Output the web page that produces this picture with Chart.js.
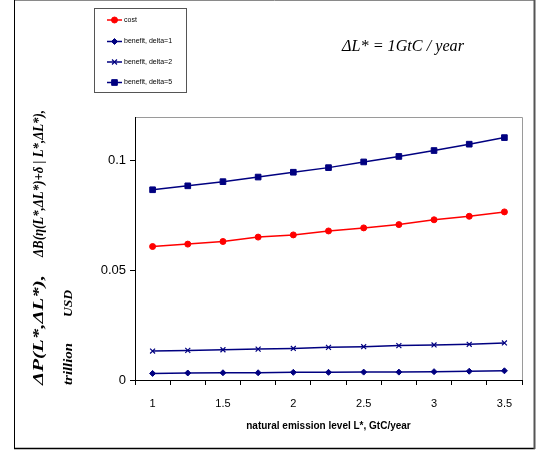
<!DOCTYPE html>
<html>
<head>
<meta charset="utf-8">
<script src="https://cdn.jsdelivr.net/npm/chart.js@4.4.1/dist/chart.umd.min.js"></script>
<style>
html, body { margin: 0; padding: 0; background: #fff; }
#wrap { width: 548px; height: 453px; }
</style>
</head>
<body>
<div id="wrap"><canvas id="chart" width="548" height="453"></canvas></div>
<script>
// natural emission level L*, GtC/year
const emissionLevels = ['1', '1.25', '1.5', '1.75', '2', '2.25', '2.5', '2.75', '3', '3.25', '3.5'];

// trillion USD
const cost = [0.0609, 0.0620, 0.0632, 0.0652, 0.0662, 0.0680, 0.0694, 0.0709, 0.0731, 0.0747, 0.0767];
const benefitDelta1 = [0.0030, 0.0032, 0.0033, 0.0033, 0.0035, 0.0035, 0.0036, 0.0036, 0.0038, 0.0040, 0.0042];
const benefitDelta2 = [0.0132, 0.0135, 0.0138, 0.0141, 0.0144, 0.0149, 0.0152, 0.0157, 0.0160, 0.0163, 0.0169];
const benefitDelta5 = [0.0868, 0.0886, 0.0905, 0.0926, 0.0948, 0.0969, 0.0995, 0.1020, 0.1047, 0.1076, 0.1106];

const seriesNames = ['cost', 'benefit, delta=1', 'benefit, delta=2', 'benefit, delta=5'];

const RED = '#FF0000';
const NAVY = '#000080';

// draws text squeezed/stretched to a given length
function fitText(ctx, text, x, y, len) {
    const w = ctx.measureText(text).width;
    ctx.save();
    ctx.translate(x, y);
    ctx.scale(len / w, 1);
    ctx.fillText(text, 0, 0);
    ctx.restore();
}

const decor = {
    id: 'decor',
    beforeDraw(chart) {
        const ctx = chart.ctx;
        const area = chart.chartArea;
        ctx.save();
        // outer frame
        ctx.lineWidth = 1;
        ctx.strokeStyle = '#8a8a8a';
        ctx.beginPath(); ctx.moveTo(14, 0.5); ctx.lineTo(535, 0.5); ctx.stroke();
        ctx.strokeStyle = '#000';
        ctx.beginPath(); ctx.moveTo(14.5, 0); ctx.lineTo(14.5, 449); ctx.stroke();
        ctx.lineWidth = 1.5;
        ctx.beginPath(); ctx.moveTo(14, 448.5); ctx.lineTo(535, 448.5); ctx.stroke();
        ctx.lineWidth = 2;
        ctx.strokeStyle = '#555';
        ctx.beginPath(); ctx.moveTo(534.5, 0); ctx.lineTo(534.5, 449); ctx.stroke();

        // plot box, top and right
        ctx.lineWidth = 1;
        ctx.strokeStyle = '#9a9a9a';
        ctx.beginPath();
        ctx.moveTo(area.left, area.top + 0.5);
        ctx.lineTo(area.right + 0.5, area.top + 0.5);
        ctx.lineTo(area.right + 0.5, area.bottom);
        ctx.stroke();
        ctx.restore();
    },
    afterDraw(chart) {
        const ctx = chart.ctx;
        ctx.save();
        ctx.fillStyle = '#000';
        ctx.textBaseline = 'middle';
        ctx.textAlign = 'left';

        // legend box
        ctx.strokeStyle = '#555';
        ctx.lineWidth = 1;
        ctx.strokeRect(94.5, 8.5, 92, 84);
        const rows = [20, 41.5, 62, 82.5];
        chart.data.datasets.forEach((ds, i) => {
            const y = rows[i];
            ctx.strokeStyle = ds.borderColor;
            ctx.fillStyle = ds.backgroundColor;
            ctx.lineWidth = 1.5;
            ctx.beginPath(); ctx.moveTo(107, y); ctx.lineTo(122, y); ctx.stroke();
            ctx.lineWidth = ds.pointBorderWidth || 1;
            Chart.helpers.drawPoint(ctx, {
                pointStyle: ds.pointStyle, radius: ds.pointRadius,
                rotation: 0, borderWidth: ctx.lineWidth
            }, 114.5, y);
            ctx.fillStyle = '#000';
            ctx.font = '7px "Liberation Sans", Arial, sans-serif';
            ctx.fillText(ds.label, 124, y);
        });

        // annotation
        ctx.font = 'italic 16px "Liberation Serif", "Times New Roman", serif';
        fitText(ctx, 'ΔL* = 1GtC / year', 342, 47, 122);

        // y axis title, two rotated lines
        ctx.save();
        ctx.translate(39, 385);
        ctx.rotate(-Math.PI / 2);
        ctx.font = 'italic bold 15px "Liberation Serif", "Times New Roman", serif';
        fitText(ctx, 'ΔP(L*,ΔL*),', 0, 0, 110);
        fitText(ctx, 'ΔB(η(L*,ΔL*)+δ | L*,ΔL*),', 128, 0, 147);
        ctx.restore();

        ctx.save();
        ctx.translate(69, 385);
        ctx.rotate(-Math.PI / 2);
        ctx.font = 'italic bold 13px "Liberation Serif", "Times New Roman", serif';
        fitText(ctx, 'trillion', 0, 0, 42);
        fitText(ctx, 'USD', 68, 0, 27);
        ctx.restore();

        ctx.restore();
    }
};

const ctx = document.getElementById('chart');
const config = {
    type: 'line',
    data: {
        labels: emissionLevels,
        datasets: [{
            label: seriesNames[0],
            data: cost,
            borderColor: RED,
            backgroundColor: RED,
            borderWidth: 1.5,
            pointStyle: 'circle',
            pointRadius: 3,
            pointBorderWidth: 1
        }, {
            label: seriesNames[1],
            data: benefitDelta1,
            borderColor: NAVY,
            backgroundColor: NAVY,
            borderWidth: 1.5,
            pointStyle: 'rectRot',
            pointRadius: 3,
            pointBorderWidth: 1
        }, {
            label: seriesNames[2],
            data: benefitDelta2,
            borderColor: NAVY,
            backgroundColor: NAVY,
            borderWidth: 1.5,
            pointStyle: 'crossRot',
            pointRadius: 3.5,
            pointBorderWidth: 1.2
        }, {
            label: seriesNames[3],
            data: benefitDelta5,
            borderColor: NAVY,
            backgroundColor: NAVY,
            borderWidth: 1.5,
            pointStyle: 'rect',
            pointRadius: 4,
            pointBorderWidth: 1
        }]
    },
    options: {
        responsive: false,
        animation: false,
        devicePixelRatio: 1,
        layout: {
            padding: { left: 0, top: 117, right: 26, bottom: 0 }
        },
        scales: {
            x: {
                type: 'category',
                offset: true,
                grid: {
                    offset: true,
                    drawOnChartArea: false,
                    color: '#000',
                    tickLength: 5
                },
                border: { color: '#000', width: 1 },
                ticks: {
                    autoSkip: false,
                    maxRotation: 0,
                    padding: 12,
                    color: '#000',
                    font: { family: '"Liberation Sans", Arial, sans-serif', size: 11 },
                    callback: function(v, i) {
                        return i % 2 === 0 ? this.getLabelForValue(v) : '';
                    }
                },
                title: {
                    display: true,
                    text: 'natural emission level L*, GtC/year',
                    color: '#000',
                    font: { family: '"Liberation Sans", Arial, sans-serif', size: 10, weight: 'bold' },
                    padding: { top: 0, bottom: 21 }
                },
                afterFit: (scale) => { scale.height = 73; }
            },
            y: {
                min: 0,
                max: 0.12,
                grid: {
                    drawOnChartArea: false,
                    color: '#000',
                    tickLength: 5
                },
                border: { color: '#000', width: 1 },
                ticks: {
                    stepSize: 0.05,
                    includeBounds: false,
                    padding: 4,
                    color: '#000',
                    font: { family: '"Liberation Sans", Arial, sans-serif', size: 13 },
                    callback: (v) => String(+v.toFixed(2))
                },
                afterFit: (scale) => { scale.width = 135; }
            }
        },
        plugins: {
            legend: { display: false },
            tooltip: { enabled: false }
        }
    },
    plugins: [decor]
};

new Chart(ctx, config);
</script>
</body>
</html>
